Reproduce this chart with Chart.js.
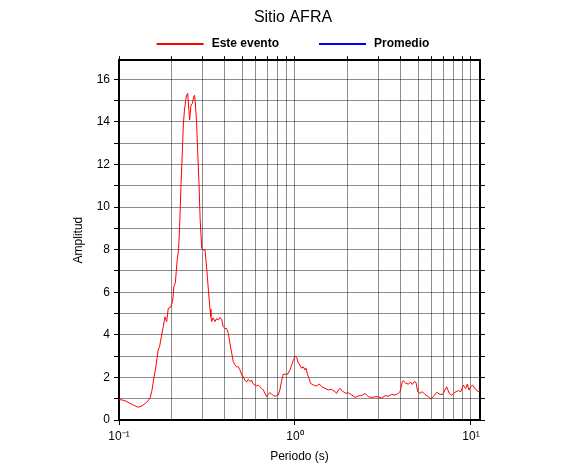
<!DOCTYPE html>
<html>
<head>
<meta charset="utf-8">
<title>Sitio AFRA</title>
<script src="https://cdn.jsdelivr.net/npm/chart.js@4.4.1/dist/chart.umd.min.js"></script>
<style>
  html, body { margin: 0; padding: 0; background: #fff; }
</style>
</head>
<body>
<canvas id="amp-chart" width="586" height="475"></canvas>
<script>
// Periodo (s) / amplitud
const periods = [
  0.100, 0.108, 0.1155, 0.123, 0.128, 0.135, 0.144, 0.150, 0.154, 0.158,
  0.162, 0.167, 0.170, 0.174, 0.1785, 0.1825, 0.1866, 0.1905, 0.1975, 0.202,
  0.205, 0.209, 0.214, 0.218, 0.221, 0.225, 0.229, 0.232, 0.235, 0.240,
  0.2425, 0.2455, 0.2475, 0.252, 0.2565, 0.261, 0.266, 0.269, 0.271, 0.276,
  0.280, 0.285, 0.289, 0.295, 0.301, 0.308, 0.312, 0.318, 0.322, 0.329,
  0.333, 0.336, 0.343, 0.351, 0.359, 0.367, 0.375, 0.383, 0.391, 0.400,
  0.409, 0.418, 0.427, 0.437, 0.446, 0.456, 0.4665, 0.476, 0.487, 0.498,
  0.5085, 0.520, 0.532, 0.543, 0.555, 0.5675, 0.575, 0.5925, 0.606, 0.619,
  0.6325, 0.647, 0.661, 0.675, 0.6905, 0.705, 0.721, 0.737, 0.753, 0.770,
  0.787, 0.804, 0.822, 0.840, 0.858, 0.877, 0.904, 0.937, 0.958, 0.978,
  1.004, 1.022, 1.044, 1.067, 1.091, 1.115, 1.140, 1.155, 1.174, 1.201,
  1.228, 1.27, 1.328, 1.375, 1.418, 1.481, 1.546, 1.616, 1.687, 1.726,
  1.762, 1.802, 1.842, 1.881, 1.95, 2.009, 2.099, 2.193, 2.289, 2.393,
  2.499, 2.61, 2.728, 2.848, 2.974, 3.109, 3.247, 3.39, 3.542, 3.70,
  3.863, 3.952, 4.073, 4.126, 4.256, 4.404, 4.544, 4.641, 4.743, 4.87,
  4.978, 5.13, 5.288, 5.479, 5.72, 5.902, 6.107, 6.383, 6.668, 6.904,
  7.112, 7.27, 7.529, 7.76, 8.11, 8.47, 8.74, 9.04, 9.33, 9.53,
  9.74, 9.95, 10.22, 10.54, 11.0, 11.25
];
const amplitudes = [
  0.97, 0.91, 0.78, 0.67, 0.60, 0.66, 0.84, 1.02, 1.40, 2.00,
  2.50, 3.29, 3.44, 3.91, 4.38, 4.85, 4.62, 5.24, 5.32, 5.63,
  6.26, 6.45, 7.5, 8.0, 9.1, 11.0, 12.6, 13.85, 14.47, 15.1,
  15.26, 15.34, 14.94, 14.1, 14.79, 14.87, 15.18, 15.26, 14.94, 14.0,
  12.6, 11.03, 9.47, 8.06, 7.98, 8.0, 7.5, 6.7, 6.1, 5.2,
  4.85, 4.62, 4.8, 4.62, 4.77, 4.69, 4.82, 4.73, 4.38, 4.3,
  4.3, 4.07, 3.6, 3.13, 2.74, 2.58, 2.5, 2.5, 2.35, 2.11,
  2.03, 1.85, 1.8, 1.91, 1.8, 1.88, 1.72, 1.64, 1.6, 1.64,
  1.56, 1.49, 1.41, 1.25, 1.09, 1.22, 1.28, 1.22, 1.14, 1.12,
  1.14, 1.17, 1.45, 1.85, 2.15, 2.15, 2.14, 2.35, 2.6, 2.8,
  3.0, 2.94, 2.69, 2.58, 2.43, 2.5, 2.35, 2.43, 2.19, 1.95,
  1.72, 1.64, 1.6, 1.69, 1.56, 1.49, 1.41, 1.44, 1.33, 1.25,
  1.41, 1.49, 1.38, 1.33, 1.25, 1.28, 1.17, 1.06, 1.13, 1.15,
  1.25, 1.09, 1.06, 1.09, 1.09, 1.02, 1.14, 1.12, 1.2, 1.17,
  1.25, 1.33, 1.8, 1.85, 1.72, 1.69, 1.77, 1.67, 1.8, 1.77,
  1.33, 1.25, 1.33, 1.2, 1.1, 0.99, 1.1, 1.3, 1.2, 1.2,
  1.41, 1.56, 1.25, 1.17, 1.3, 1.38, 1.33, 1.64, 1.47, 1.69,
  1.41, 1.56, 1.64, 1.47, 1.33, 1.38
];
// no average curve is drawn in the reference, only its legend entry
const promedioPeriods = [];
const promedioAmps = [];

const xGridValues = [0.1, 0.2, 0.3, 0.4, 0.5, 0.6, 0.7, 0.8, 0.9,
                     1, 2, 3, 4, 5, 6, 7, 8, 9, 10];
const decadeValues = [0.1, 1, 10];
const decadeLabels = ['10⁻¹', '10⁰', '10¹'];

Chart.defaults.font.family = "'Liberation Sans', Arial, Helvetica, sans-serif";
Chart.defaults.font.size = 12;
Chart.defaults.color = '#000';

const GRID = 'rgba(0,0,0,0.45)';

function toPoints(xs, ys) {
  return xs.map((x, i) => ({ x: x, y: ys[i] }));
}

function setXTicks(scale) {
  scale.ticks = xGridValues.map(v => ({ value: v, major: decadeValues.includes(v) }));
}

// legend drawn as line + bold label, centred above the plot
const lineLegend = {
  id: 'lineLegend',
  afterDraw(chart) {
    const ctx = chart.ctx;
    const lineLen = 47, gap = 8, spacing = 40, cy = 44;
    ctx.save();
    ctx.font = "bold 12px 'Liberation Sans', Arial, sans-serif";
    const items = chart.data.datasets.map(ds => ({
      text: ds.label, color: ds.borderColor, w: ctx.measureText(ds.label).width
    }));
    let total = 0;
    items.forEach((it, i) => { total += lineLen + gap + it.w + (i ? spacing : 0); });
    let x = chart.width / 2 - total / 2;
    items.forEach(it => {
      ctx.strokeStyle = it.color;
      ctx.lineWidth = 2;
      ctx.beginPath();
      ctx.moveTo(x, cy);
      ctx.lineTo(x + lineLen, cy);
      ctx.stroke();
      ctx.fillStyle = '#000';
      ctx.textBaseline = 'middle';
      ctx.fillText(it.text, x + lineLen + gap, cy);
      x += lineLen + gap + it.w + spacing;
    });
    ctx.restore();
  }
};

new Chart(document.getElementById('amp-chart'), {
  type: 'line',
  data: {
    datasets: [{
      label: 'Este evento',
      data: toPoints(periods, amplitudes),
      borderColor: '#ff0000',
      borderWidth: 1,
      pointRadius: 0,
      tension: 0
    }, {
      label: 'Promedio',
      data: toPoints(promedioPeriods, promedioAmps),
      borderColor: '#0000ff',
      borderWidth: 1,
      pointRadius: 0
    }]
  },
  options: {
    responsive: false,
    animation: false,
    devicePixelRatio: 1,
    layout: { padding: 0 },
    plugins: {
      legend: { display: false },
      tooltip: { enabled: false },
      title: {
        display: true,
        text: 'Sitio AFRA',
        color: '#000',
        font: { size: 16, weight: 'normal' },
        padding: { top: 8, bottom: 28 }
      }
    },
    scales: {
      x: {
        type: 'logarithmic',
        position: 'bottom',
        min: 0.1,
        max: 11.25,
        afterBuildTicks: setXTicks,
        afterFit: s => { s.height = 55; },
        grid: {
          color: GRID,
          lineWidth: 1,
          tickLength: 5,
          tickColor: c => (c.tick && c.tick.major ? '#000' : 'rgba(0,0,0,0)')
        },
        border: { color: '#000', width: 2 },
        ticks: {
          autoSkip: false,
          maxRotation: 0,
          padding: 4,
          callback: v => {
            const i = decadeValues.indexOf(v);
            return i >= 0 ? decadeLabels[i] : '';
          }
        },
        title: {
          display: true,
          text: 'Periodo (s)',
          padding: { top: 0, bottom: 11 }
        }
      },
      xTop: {
        type: 'logarithmic',
        position: 'top',
        min: 0.1,
        max: 11.25,
        afterBuildTicks: setXTicks,
        afterFit: s => { s.height = 5; },
        grid: { drawOnChartArea: false, tickLength: 4, tickColor: '#000' },
        border: { color: '#000', width: 2 },
        ticks: { display: false }
      },
      y: {
        type: 'linear',
        position: 'left',
        min: 0,
        max: 16.9,
        afterFit: s => { s.width = 119; },
        grid: { color: GRID, lineWidth: 1, tickLength: 5, tickColor: '#000' },
        border: { color: '#000', width: 2 },
        ticks: {
          stepSize: 1,
          includeBounds: false,
          padding: 4,
          callback: v => (v % 2 === 0 ? String(v) : '')
        },
        title: {
          display: true,
          text: 'Amplitud',
          padding: { top: 71, bottom: 0 }
        }
      },
      yRight: {
        type: 'linear',
        position: 'right',
        min: 0,
        max: 16.9,
        afterFit: s => { s.width = 106; },
        grid: { drawOnChartArea: false, tickLength: 5, tickColor: '#000' },
        border: { color: '#000', width: 2 },
        ticks: { stepSize: 1, includeBounds: false, display: false }
      }
    }
  },
  plugins: [lineLegend]
});
</script>
</body>
</html>
